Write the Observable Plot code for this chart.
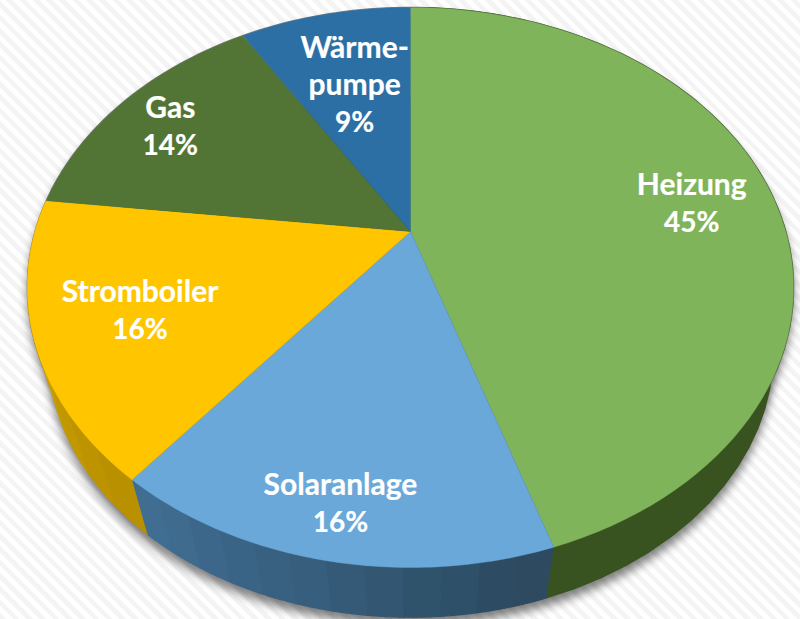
<!DOCTYPE html>
<html lang="de">
<head>
<meta charset="utf-8">
<script src="https://cdn.jsdelivr.net/npm/d3@7"></script>
<script src="https://cdn.jsdelivr.net/npm/@observablehq/plot@0.6"></script>
<style>
html,body{margin:0;padding:0;width:800px;height:619px;overflow:hidden;}
body{background:repeating-linear-gradient(45deg,#f4f4f4 0,#f4f4f4 4.7px,#ffffff 4.7px,#ffffff 9.4px);}
#chart svg{display:block;}
</style>
</head>
<body>
<div id="chart"></div>
<script>
const categories = ["Heizung","Solaranlage","Stromboiler","Gas","Wärmepumpe"];
const shares = [45,15.77,16.1,14.38,8.75];
const nameLabels = ["Heizung","Solaranlage","Stromboiler","Gas","Wärme-\npumpe"];
const percentLabels = ["45%","16%","16%","14%","9%"];
const faceColors = ["#7fb45b","#69a8d8","#ffc600","#527535","#2c6fa5"];
const heizungSide = ["#38531f"];
const solarSide = ["#2d4a60","#2d4c63","#2e5068","#30536c","#335772","#345a78","#375e7d","#386181","#3a6485","#3c678a","#3e6b8e","#3f6e92"];
const stromSide = ["#b89000","#bd9400","#c29800","#c69b00","#cb9f00","#d0a300","#d5a700","#d9aa00"];

// Perspective view of the pie: a circle seen through a homography
const apex = [410,231], A = 375.3, B = 268.8, K = 0.2;
const vp = [415,1488], S = 0.946;          // lower rim = upper rim scaled toward vanishing point
const labelRadius = [0.78,0.86,0.73,0.82,0.65];
const labelNudge = [[-1,0],[0,-6],[-2,-4],[-2,0],[3,17]];
const TAU = Math.PI*2;

function upper(a, r=1){
  const u = r*Math.sin(a), v = -r*Math.cos(a), d = 1-K*v;
  return [apex[0]+A*u/d, apex[1]+B*v/d];
}
function lower(a){
  const [x,y] = upper(a);
  return [vp[0]+(x-vp[0])*S, vp[1]+(y-vp[1])*S];
}
const total = d3.sum(shares);
const cum = d3.cumsum(shares);
const start = i => (i?cum[i-1]:0)/total*TAU;
const end = i => cum[i]/total*TAU;
const arc = (f,a0,a1,n) => d3.range(n+1).map(k => f(a0+(a1-a0)*k/n));

const faces = [], sides = [], shadow = [], rim = [];
categories.forEach((c,i) => {
  const pts = [[apex[0],apex[1]], ...arc(upper,start(i),end(i),80)];
  pts.forEach(p => faces.push({id:c,x:p[0],y:p[1],color:faceColors[i]}));
});
[[0,heizungSide],[1,solarSide],[2,stromSide]].forEach(([i,cols]) => {
  const a0=start(i), a1=end(i), step=(a1-a0)/cols.length;
  cols.forEach((col,j) => {
    const s=a0+j*step, e=s+step;
    const poly=[...arc(upper,s,e,40),...arc(lower,s,e,40).reverse()];
    poly.forEach(p => sides.push({id:i+"-"+j,x:p[0],y:p[1],color:col}));
  });
});
arc(upper,0,TAU,240).forEach(p => { rim.push({x:p[0],y:p[1]}); shadow.push({id:"t",x:p[0],y:p[1]+7}); });
arc(lower,0,TAU,240).forEach(p => shadow.push({id:"b",x:p[0],y:p[1]+8}));

const labelData = categories.map((c,i) => {
  const [x,y] = upper((start(i)+end(i))/2, labelRadius[i]);
  return {x:x+labelNudge[i][0],y:y+labelNudge[i][1],name:nameLabels[i],percent:percentLabels[i]};
});

const textStyle = {x:"x",y:"y",fill:"#fff",stroke:"#fff",strokeWidth:0.2,fontFamily:"Lato",fontWeight:700};
const chart = Plot.plot({
  width:800,height:619,margin:0,
  style:{background:"transparent"},
  x:{domain:[0,800],range:[0,800],axis:null},
  y:{domain:[0,619],range:[0,619],axis:null},
  color:{type:"identity"},
  marks:[
    Plot.line(shadow,{x:"x",y:"y",z:"id",fill:"#000",fillOpacity:0.5,stroke:"none",imageFilter:"blur(5px)"}),
    Plot.line(rim,{x:"x",y:"y",stroke:"#808080",strokeWidth:1.6}),
    Plot.line(sides,{x:"x",y:"y",z:"id",fill:"color",stroke:"color",strokeWidth:1.2,strokeLinejoin:"miter"}),
    Plot.line(faces,{x:"x",y:"y",z:"id",fill:"color",stroke:"color",strokeWidth:0.4}),
    Plot.text(labelData,{...textStyle,text:"name",fontSize:30,lineHeight:1.24,lineAnchor:"bottom",dy:-4}),
    Plot.text(labelData,{...textStyle,text:"percent",fontSize:28,lineAnchor:"top",dy:13})
  ]
});
document.getElementById("chart").append(chart);
</script>
</body>
</html>
